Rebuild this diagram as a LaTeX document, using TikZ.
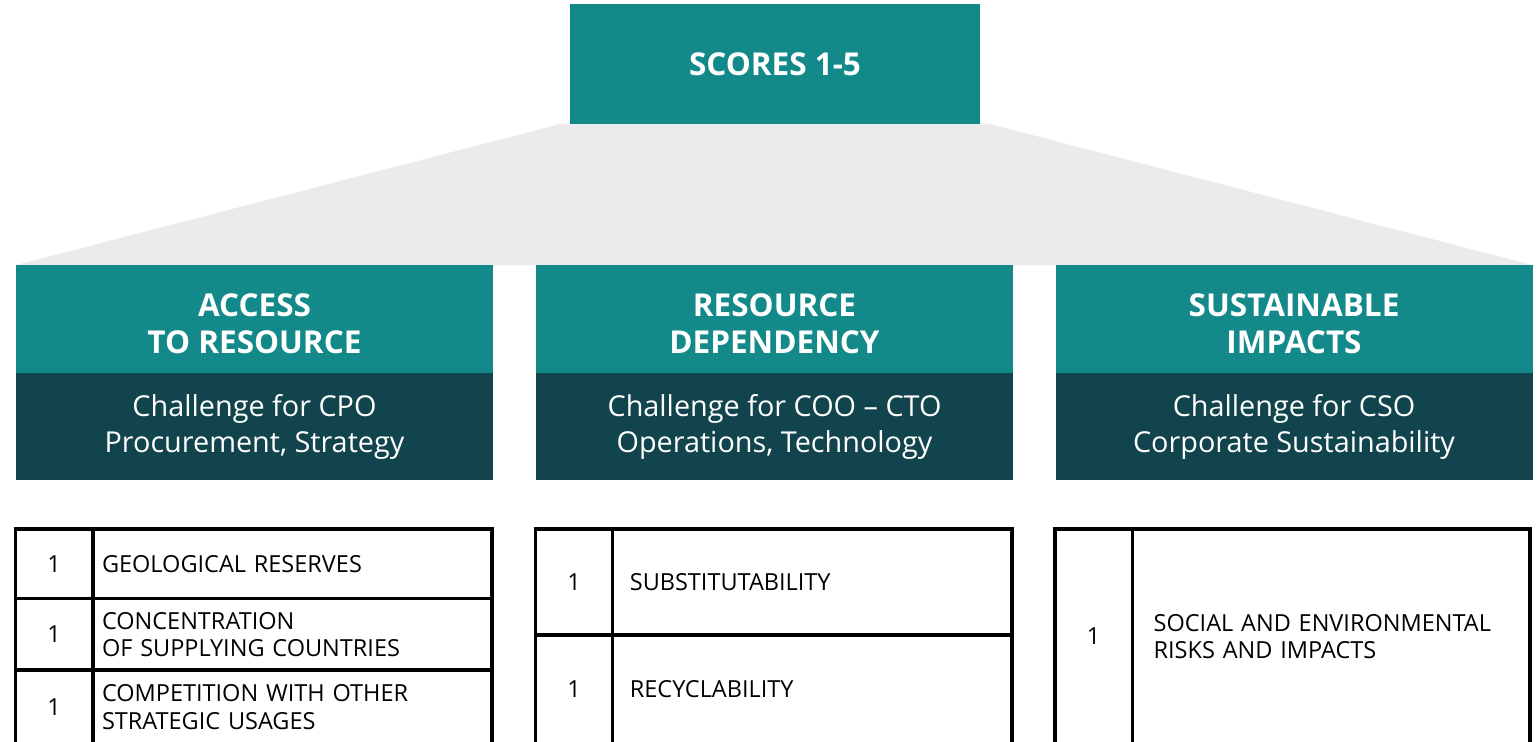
\documentclass[tikz,border=0pt]{standalone}
\usepackage{fontspec}
\setmainfont{Open Sans}
\definecolor{teal1}{RGB}{20,137,138}
\definecolor{dark1}{RGB}{17,68,76}
\definecolor{gray1}{RGB}{235,235,235}
\tikzset{
  topbox/.style={fill=teal1, text=white, inner sep=0pt, font=\bfseries\fontsize{31.5}{37}\selectfont, align=center},
  headbox/.style={fill=teal1, inner sep=0pt, minimum width=477pt, minimum height=108pt},
  headtext/.style={text=white, inner sep=0pt, font=\bfseries\fontsize{31.5}{37}\selectfont, align=center},
  subbox/.style={fill=dark1, text=white, inner sep=0pt, minimum width=477pt, minimum height=107pt, font=\fontsize{28.8}{36}\selectfont, align=center},
  cell/.style={draw=black, line width=3.5pt, inner sep=0pt, font=\fontsize{23.5}{27.5}\selectfont},
  numcell/.style={cell, align=center},
  txtcell/.style={cell, align=left, inner xsep=9pt}
}
\begin{document}
\begin{tikzpicture}[x=1pt,y=-1pt]
\useasboundingbox (0,0) rectangle (1538,741);
\clip (0,0) rectangle (1538,741);
% gray trapezoid
\fill[gray1] (560,124) -- (990,124) -- (1532,265) -- (16,265) -- cycle;
% top box
\node[topbox, minimum width=410pt, minimum height=120pt] (score) at (775,64) {SCORES 1-5};
% column headers
\node[headbox] (h1) at (254.5,319) {};
\node[headtext] (h1t) at ([yshift=-5pt]h1.center) {ACCESS\\TO RESOURCE};
\node[subbox] (s1) at (254.5,426.5) {Challenge for CPO\\Procurement, Strategy};
\node[headbox] (h2) at (774.5,319) {};
\node[headtext] (h2t) at ([yshift=-5pt]h2.center) {RESOURCE\\DEPENDENCY};
\node[subbox] (s2) at (774.5,426.5) {Challenge for COO – CTO\\Operations, Technology};
\node[headbox] (h3) at (1294,319) {};
\node[headtext] (h3t) at ([yshift=-5pt]h3.center) {SUSTAINABLE\\IMPACTS};
\node[subbox] (s3) at (1294,426.5) {Challenge for CSO\\Corporate Sustainability};
% table 1
\node[numcell, minimum width=77.7pt, minimum height=69.7pt] (n11) at (54.15,563.85) {1};
\node[txtcell, minimum width=399pt, minimum height=69.7pt, text width=381pt] (t11) at (292.5,563.85) {GEOLOGICAL RESERVES};
\node[numcell, minimum width=77.7pt, minimum height=71.3pt] (n12) at (54.15,634.35) {1};
\node[txtcell, minimum width=399pt, minimum height=71.3pt, text width=381pt] (t12) at (292.5,634.35) {CONCENTRATION\\OF SUPPLYING COUNTRIES};
\node[numcell, minimum width=77.7pt, minimum height=74pt] (n13) at (54.15,707) {1};
\node[txtcell, minimum width=399pt, minimum height=74pt, text width=381pt] (t13) at (292.5,707) {COMPETITION WITH OTHER\\STRATEGIC USAGES};
% table 2
\node[numcell, minimum width=77.4pt, minimum height=106pt] (n21) at (574,582) {1};
\node[txtcell, minimum width=399.3pt, minimum height=106pt, text width=365pt, inner xsep=17pt] (t21) at (812.35,582) {SUBSTITUTABILITY};
\node[numcell, minimum width=77.4pt, minimum height=109pt] (n22) at (574,689.5) {1};
\node[txtcell, minimum width=399.3pt, minimum height=109pt, text width=365pt, inner xsep=17pt] (t22) at (812.35,689.5) {RECYCLABILITY};
% table 3
\node[numcell, minimum width=77.3pt, minimum height=215pt] (n31) at (1093.65,636.5) {1};
\node[txtcell, minimum width=397.7pt, minimum height=215pt, text width=355pt, inner xsep=21pt] (t31) at (1331.15,636.5) {SOCIAL AND ENVIRONMENTAL\\RISKS AND IMPACTS};
\end{tikzpicture}
\end{document}
